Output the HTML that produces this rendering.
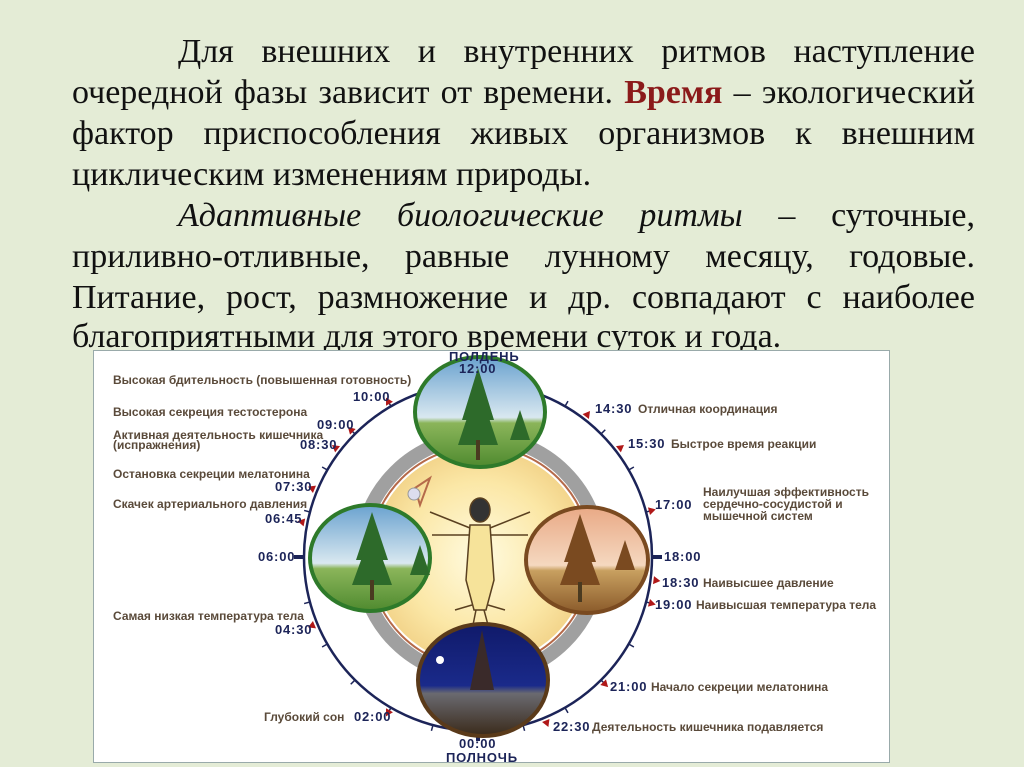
<!DOCTYPE html>
<html><head><meta charset="utf-8"><style>
body{margin:0;width:1024px;height:767px;background:#e4ecd6;position:relative;overflow:hidden;font-family:"Liberation Serif",serif}
.l{position:absolute;left:72px;width:903px;font-size:34px;line-height:34px;color:#111;white-space:nowrap}
.j{text-align:justify;text-align-last:justify;white-space:normal}
.i{left:178px;width:797px}
svg{position:absolute;left:0;top:0}
</style></head><body>
<div class="l j i" style="top:35px">Для внешних и внутренних ритмов наступление</div>
<div class="l j" style="top:76px">очередной фазы зависит от времени. <b style="color:#8b1a1a">Время</b> – экологический</div>
<div class="l j" style="top:117px">фактор приспособления живых организмов к внешним</div>
<div class="l" style="top:158px">циклическим изменениям природы.</div>
<div class="l j i" style="top:199px"><i>Адаптивные биологические ритмы</i> – суточные,</div>
<div class="l j" style="top:240px">приливно-отливные, равные лунному месяцу, годовые.</div>
<div class="l j" style="top:281px">Питание, рост, размножение и др. совпадают с наиболее</div>
<div class="l" style="top:320px">благоприятными для этого времени суток и года.</div>
<svg width="1024" height="767" viewBox="0 0 1024 767" font-family="Liberation Sans, sans-serif">
<defs>
<radialGradient id="yel" cx="50%" cy="50%" r="50%"><stop offset="0" stop-color="#fffbe0"/><stop offset="0.7" stop-color="#fbe7a6"/><stop offset="1" stop-color="#f3d58c"/></radialGradient>
<linearGradient id="sky" x1="0" y1="0" x2="0" y2="1"><stop offset="0" stop-color="#6aa2cf"/><stop offset="0.55" stop-color="#d9e8f0"/><stop offset="0.6" stop-color="#8bb55a"/><stop offset="1" stop-color="#4f8a2f"/></linearGradient>
<linearGradient id="eve" x1="0" y1="0" x2="0" y2="1"><stop offset="0" stop-color="#e9a985"/><stop offset="0.55" stop-color="#f5d8c0"/><stop offset="0.6" stop-color="#c8a060"/><stop offset="1" stop-color="#8a5a2a"/></linearGradient>
<linearGradient id="night" x1="0" y1="0" x2="0" y2="1"><stop offset="0" stop-color="#101a6a"/><stop offset="0.55" stop-color="#1a2a8a"/><stop offset="0.62" stop-color="#6a6a70"/><stop offset="1" stop-color="#3a2a1a"/></linearGradient>
</defs>
<rect x="93.5" y="350.5" width="796" height="412" fill="#fff" stroke="#9aa" stroke-width="1"/>
<circle cx="478" cy="557" r="174" fill="#fff" stroke="#1c2458" stroke-width="2.5"/>
<g id="ticks"></g>
<circle cx="480" cy="557" r="120" fill="none" stroke="#a0a0a0" stroke-width="14"/>
<circle cx="480" cy="557" r="111" fill="none" stroke="#b56a4a" stroke-width="2"/>
<circle cx="480" cy="557" r="108" fill="url(#yel)"/>
<g stroke="#5a4020" stroke-width="1.5" fill="#f6e39a">
<ellipse cx="480" cy="510" rx="10" ry="12" fill="#333"/>
<path d="M470 525 L490 525 L494 580 L486 610 L474 610 L466 580 Z"/>
<path d="M470 528 L430 512 M490 528 L530 512 M470 535 L432 535 M490 535 L528 535 M472 605 L455 610 M488 605 L505 610 M476 610 L470 640 M484 610 L492 640" fill="none"/>
</g>
<path d="M415 488 L430 478 L420 505 Z" fill="none" stroke="#b56a4a" stroke-width="2"/>
<circle cx="414" cy="494" r="6" fill="#dde" stroke="#999"/>
<g>
<ellipse cx="480" cy="412" rx="65" ry="55" fill="url(#sky)" stroke="#2e7a2a" stroke-width="4"/>
<path d="M478 368 L462 420 L494 420 Z M478 385 L458 445 L498 445 Z" fill="#2d6a2a"/><rect x="476" y="440" width="4" height="20" fill="#4a3a20"/>
<path d="M520 410 L510 440 L530 440 Z" fill="#2d6a2a"/>
<ellipse cx="370" cy="558" rx="60" ry="53" fill="url(#sky)" stroke="#2e7a2a" stroke-width="4"/>
<path d="M372 512 L356 560 L388 560 Z M372 530 L352 585 L392 585 Z" fill="#2d6a2a"/><rect x="370" y="580" width="4" height="20" fill="#4a3a20"/>
<path d="M420 545 L410 575 L430 575 Z" fill="#2d6a2a"/>
<ellipse cx="587" cy="560" rx="61" ry="53" fill="url(#eve)" stroke="#7a4a20" stroke-width="4"/>
<path d="M580 514 L564 562 L596 562 Z M580 530 L560 585 L600 585 Z" fill="#7a4a20"/><rect x="578" y="582" width="4" height="20" fill="#4a3a20"/>
<path d="M625 540 L615 570 L635 570 Z" fill="#7a4a20"/>
<ellipse cx="483" cy="680" rx="65" ry="56" fill="url(#night)" stroke="#5a3a1a" stroke-width="4"/>
<path d="M482 630 L470 690 L494 690 Z" fill="#3a2a2a"/><circle cx="440" cy="660" r="4" fill="#fff"/>
</g>
<g font-size="12" font-weight="bold" fill="#5a4a3a">
<text x="113" y="384">Высокая бдительность (повышенная готовность)</text>
<text x="113" y="416">Высокая секреция тестостерона</text>
<text x="113" y="439">Активная деятельность кишечника</text>
<text x="113" y="449">(испражнения)</text>
<text x="113" y="478">Остановка секреции мелатонина</text>
<text x="113" y="508">Скачек артериального давления</text>
<text x="113" y="620">Самая низкая температура тела</text>
<text x="264" y="721">Глубокий сон</text>
<text x="638" y="413">Отличная координация</text>
<text x="671" y="448">Быстрое время реакции</text>
<text x="703" y="496">Наилучшая эффективность</text>
<text x="703" y="508">сердечно-сосудистой и</text>
<text x="703" y="520">мышечной систем</text>
<text x="703" y="587">Наивысшее давление</text>
<text x="696" y="609">Наивысшая температура тела</text>
<text x="651" y="691">Начало секреции мелатонина</text>
<text x="592" y="731">Деятельность кишечника подавляется</text>
</g>
<g font-size="13" font-weight="bold" fill="#1c2458" letter-spacing="0.8">
<text x="449" y="361">ПОЛДЕНЬ</text><text x="459" y="373">12:00</text>
<text x="353" y="401">10:00</text><text x="317" y="429">09:00</text><text x="300" y="449">08:30</text>
<text x="275" y="491">07:30</text><text x="265" y="523">06:45</text><text x="258" y="561">06:00</text>
<text x="275" y="634">04:30</text><text x="354" y="721">02:00</text>
<text x="459" y="748">00:00</text><text x="446" y="762">ПОЛНОЧЬ</text>
<text x="595" y="413">14:30</text><text x="628" y="448">15:30</text><text x="655" y="509">17:00</text>
<text x="664" y="561">18:00</text><text x="662" y="587">18:30</text><text x="655" y="609">19:00</text>
<text x="610" y="691">21:00</text><text x="553" y="731">22:30</text>
</g>
</svg>
<script>
var g=document.getElementById('ticks'),cx=478,cy=557,r=174,s='';
for(var h=0;h<24;h++){var a=(h-12)/24*2*Math.PI,sn=Math.sin(a),cs=-Math.cos(a);
var big=h%6==0,L=big?10:6;
s+='<line x1="'+(cx+r*sn)+'" y1="'+(cy+r*cs)+'" x2="'+(cx+(r+L)*sn)+'" y2="'+(cy+(r+L)*cs)+'" stroke="#1c2458" stroke-width="'+(big?4:1.5)+'"/>';}
[10,9,8.5,7.5,6.75,4.5,2,14.5,15.5,17,18.5,19,21,22.5].forEach(function(h){var a=(h-12)/24*2*Math.PI,sn=Math.sin(a),cs=-Math.cos(a);
var x=cx+(r+3)*sn,y=cy+(r+3)*cs,tx=cs,ty=-sn;
s+='<polygon points="'+(x-4*tx)+','+(y-4*ty)+' '+(x+4*tx)+','+(y+4*ty)+' '+(x+7*sn)+','+(y+7*cs)+'" fill="#b01818"/>';});
g.innerHTML=s;
</script>
</body></html>
